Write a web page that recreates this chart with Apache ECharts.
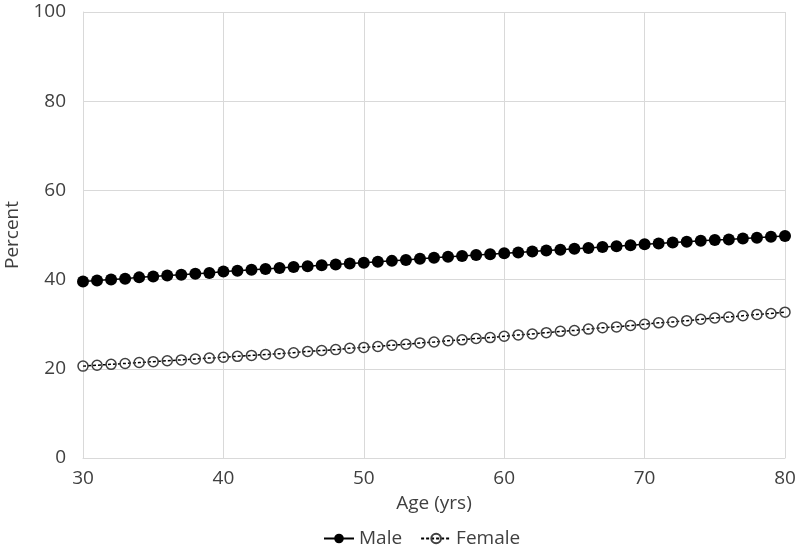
<!DOCTYPE html>
<html>
<head>
<meta charset="utf-8">
<script src="https://cdn.jsdelivr.net/npm/echarts@6/dist/echarts.min.js"></script>
<style>html,body{margin:0;padding:0;background:#fff}#c{width:798px;height:547px}</style>
</head>
<body>
<div id="c"></div>
<script>
const ages = [30,31,32,33,34,35,36,37,38,39,40,41,42,43,44,45,46,47,48,49,50,51,52,53,54,55,56,57,58,59,60,61,62,63,64,65,66,67,68,69,70,71,72,73,74,75,76,77,78,79,80];
const male = [39.6,39.8,40.0,40.2,40.5,40.7,40.9,41.1,41.3,41.5,41.8,
  42.0,42.2,42.4,42.6,42.8,43.0,43.2,43.4,43.6,43.8,
  44.0,44.2,44.4,44.7,44.9,45.1,45.3,45.5,45.7,45.9,
  46.1,46.3,46.5,46.7,46.9,47.1,47.3,47.5,47.7,47.9,
  48.1,48.3,48.5,48.7,48.9,49.0,49.2,49.4,49.6,49.8];
const female = [20.6,20.8,21.0,21.2,21.4,21.6,21.8,22.0,22.2,22.4,22.6,
  22.8,23.0,23.2,23.4,23.6,23.9,24.1,24.3,24.6,24.8,
  25.0,25.3,25.5,25.8,26.0,26.3,26.5,26.8,27.0,27.3,
  27.6,27.8,28.1,28.4,28.6,28.9,29.2,29.4,29.7,30.0,
  30.3,30.5,30.8,31.1,31.4,31.6,31.9,32.2,32.4,32.7];
const seriesNames = ['Male','Female'];
const xName = 'Age (yrs)';
const yName = 'Percent';

const font = 'Open Sans';
const txt = '#404040';
const chart = echarts.init(document.getElementById('c'), null, {renderer:'canvas'});
chart.setOption({
  animation:false,
  textStyle:{fontFamily:font},
  grid:{left:83,right:13,top:12,bottom:89,containLabel:false,outerBoundsMode:'none'},
  legend:{
    top:524,left:318,itemWidth:30,itemHeight:12,itemGap:18,
    textStyle:{fontFamily:font,fontSize:19,color:txt},
    data:seriesNames
  },
  xAxis:{
    type:'value',min:30,max:80,interval:10,
    name:xName,nameLocation:'middle',nameGap:36,
    nameTextStyle:{fontFamily:font,fontSize:19,color:txt},
    axisLine:{show:true,lineStyle:{color:'#d9d9d9',width:1}},
    axisTick:{show:false},
    axisLabel:{fontFamily:font,fontSize:19,color:txt,margin:11},
    splitLine:{show:true,lineStyle:{color:'#d9d9d9',width:1}}
  },
  yAxis:{
    type:'value',min:0,max:100,interval:20,
    name:yName,nameLocation:'middle',nameGap:55,
    nameTextStyle:{fontFamily:font,fontSize:19,color:txt},
    axisLine:{show:true,lineStyle:{color:'#d9d9d9',width:1}},
    axisTick:{show:false},
    axisLabel:{fontFamily:font,fontSize:19,color:txt,margin:17},
    splitLine:{show:true,lineStyle:{color:'#d9d9d9',width:1}}
  },
  series:[
    {name:seriesNames[0],type:'line',data:ages.map((a,i)=>[a,male[i]]),
     symbol:'circle',symbolSize:12,showAllSymbol:true,
     lineStyle:{color:'#000',width:1.5},
     itemStyle:{color:'#000',borderColor:'#000',borderWidth:0}},
    {name:seriesNames[1],type:'line',data:ages.map((a,i)=>[a,female[i]]),
     symbol:'circle',symbolSize:10,showAllSymbol:true,
     lineStyle:{color:'#000',width:1.5,type:[3,2]},
     itemStyle:{color:'rgba(255,255,255,0)',borderColor:'#404040',borderWidth:1.5}}
  ]
});
</script>
</body>
</html>
